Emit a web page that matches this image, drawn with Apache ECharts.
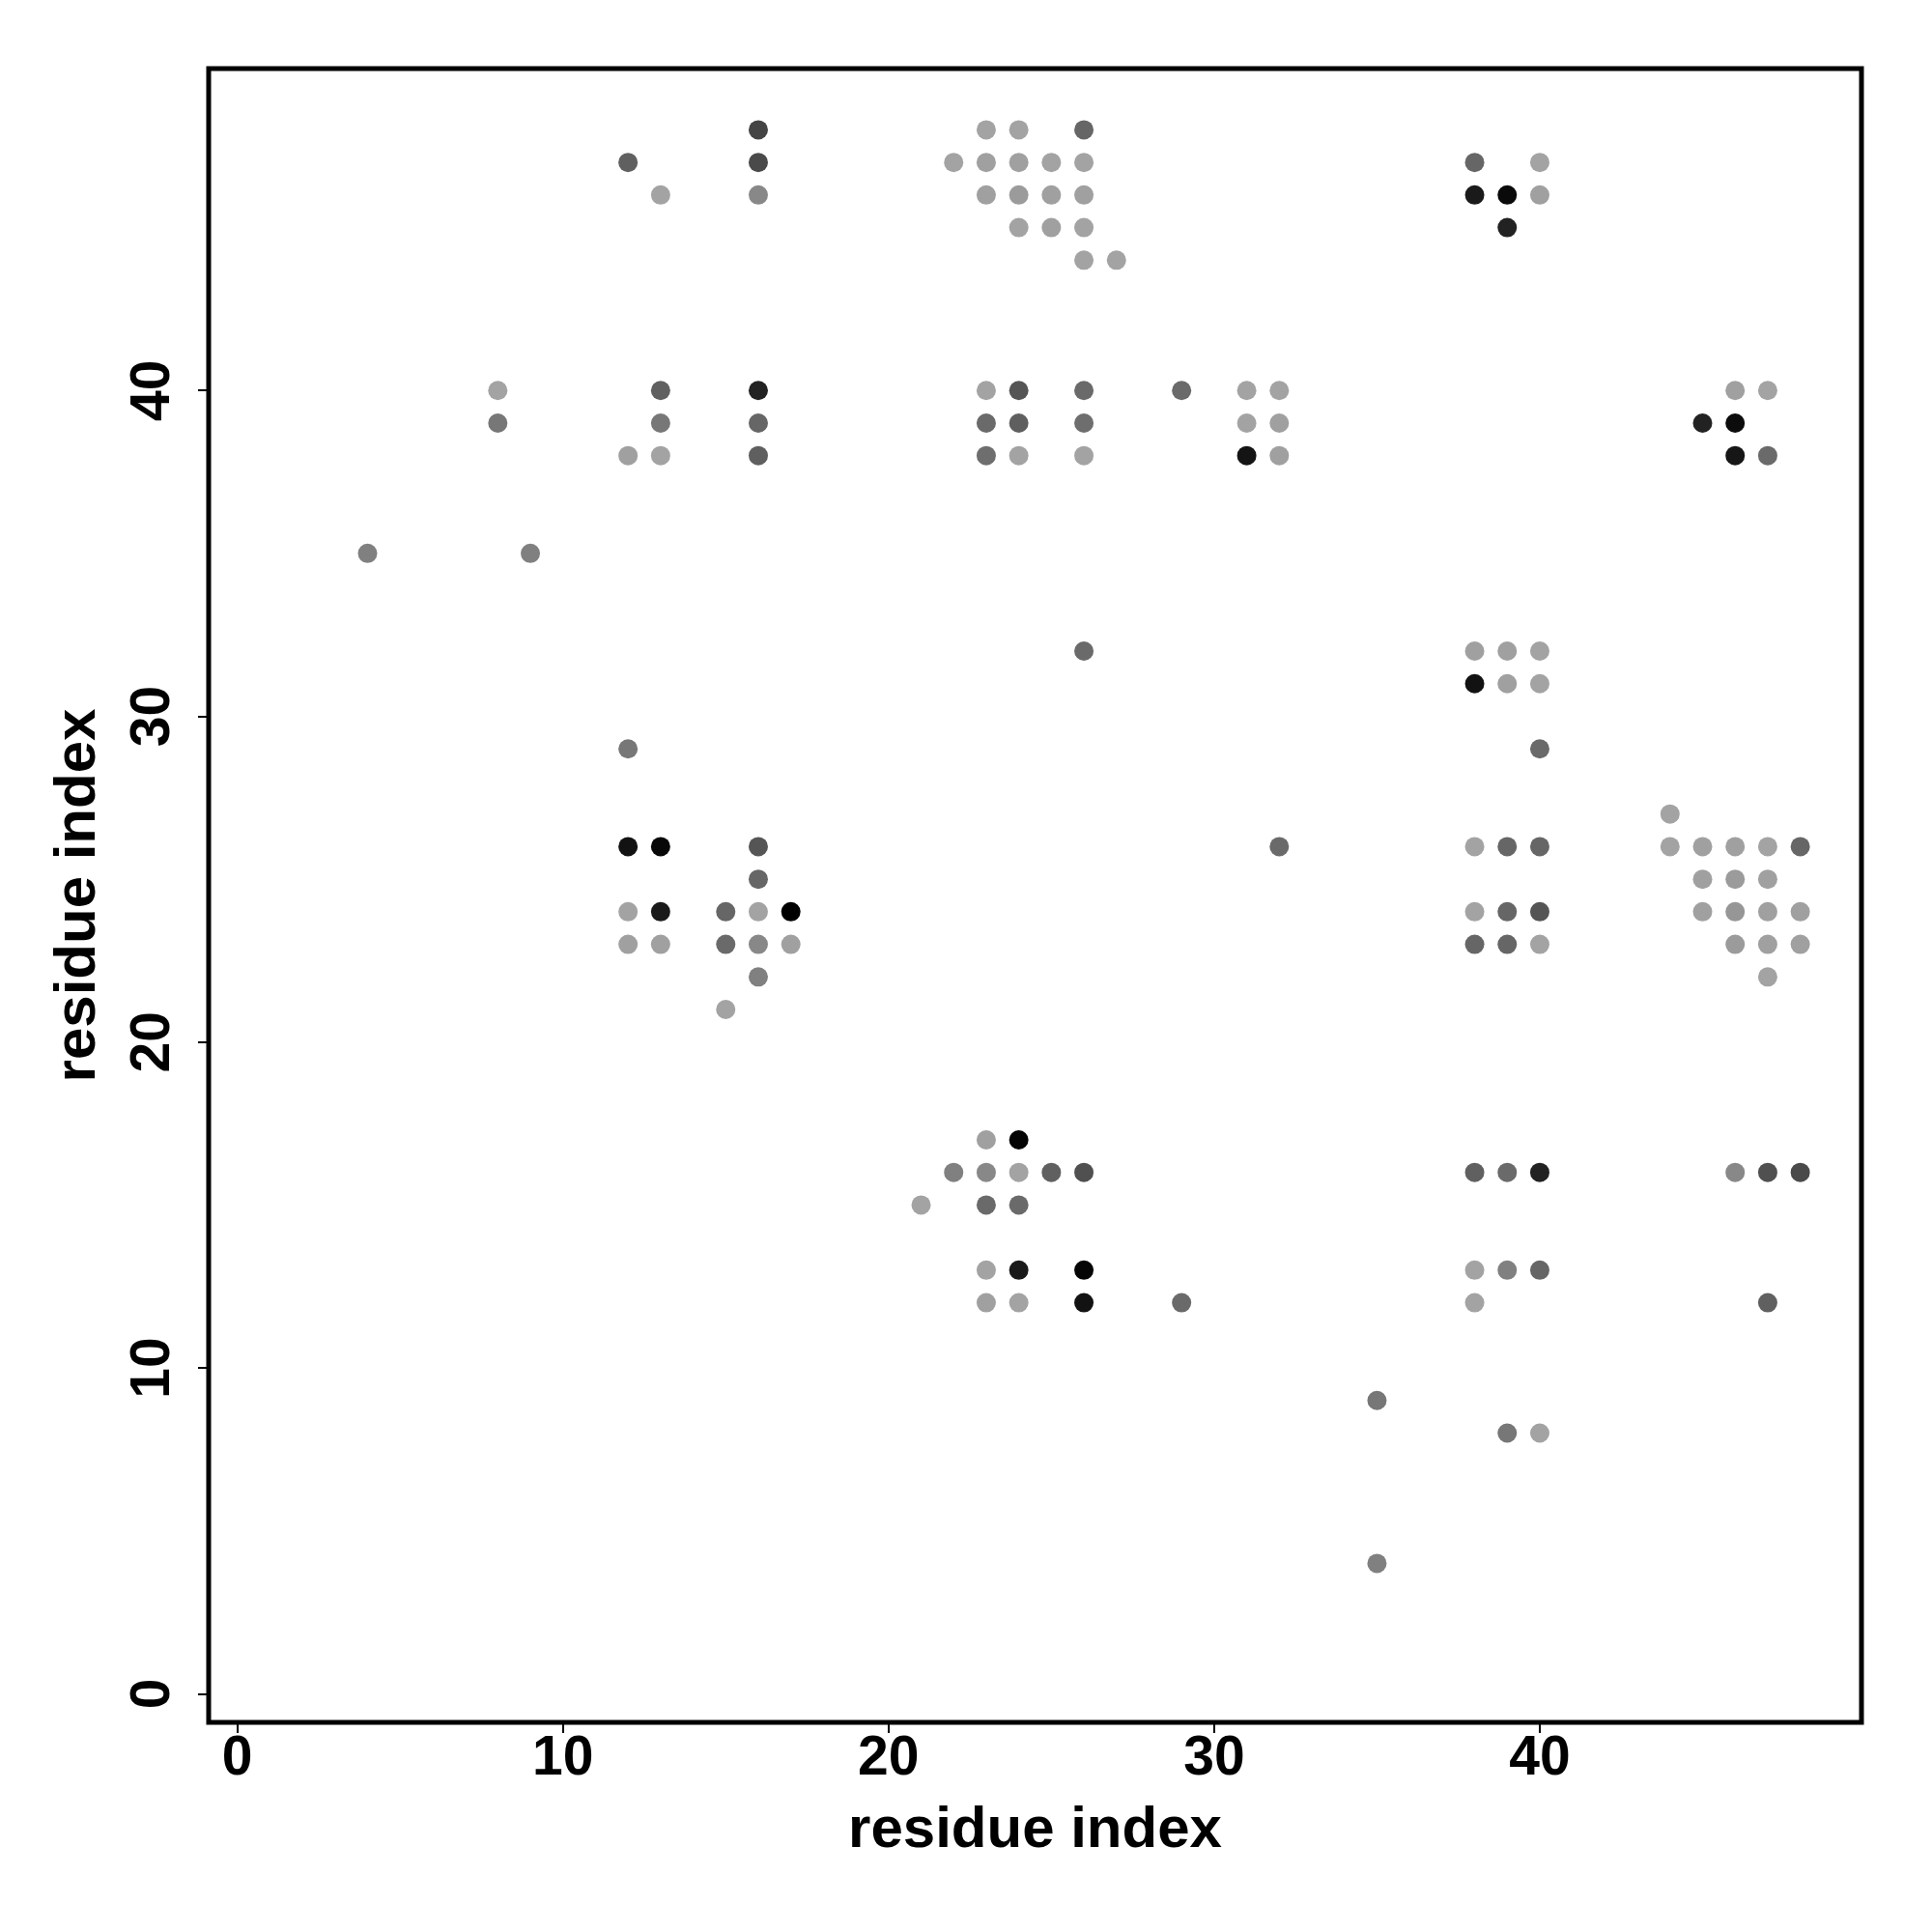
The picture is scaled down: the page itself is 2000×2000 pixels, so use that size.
<!DOCTYPE html>
<html>
<head>
<meta charset="utf-8">
<script src="https://cdn.jsdelivr.net/npm/echarts@6/dist/echarts.min.js"></script>
<style>html,body{margin:0;padding:0;background:#fff}#c{width:2000px;height:2000px}</style>
</head>
<body>
<div id="c"></div>
<script>
// contact map: residue i (x), residue j (y), gray level 0..255
const xs = [16,23,24,26, 12,16,22,23,24,25,26,38,40, 13,16,23,24,25,26,38,39,40, 24,25,26,39, 26,27,
  8,13,16,23,24,26,29,31,32,46,47, 8,13,16,23,24,26,31,32,45,46, 12,13,16,23,24,26,31,32,46,47,
  4,9, 26,38,39,40, 38,39,40, 12,40, 44,
  12,13,16,32,38,39,40,44,45,46,47,48, 16,45,46,47,
  12,13,15,16,17,38,39,40,45,46,47,48, 12,13,15,16,17,38,39,40,46,47,48,
  16,47, 15, 23,24, 22,23,24,25,26,38,39,40,46,47,48, 21,23,24,
  23,24,26,38,39,40, 23,24,26,29,38,47, 35, 39,40, 35];
const ys = [48,48,48,48, 47,47,47,47,47,47,47,47,47, 46,46,46,46,46,46,46,46,46, 45,45,45,45, 44,44,
  40,40,40,40,40,40,40,40,40,40,40, 39,39,39,39,39,39,39,39,39,39, 38,38,38,38,38,38,38,38,38,38,
  35,35, 32,32,32,32, 31,31,31, 29,29, 27,
  26,26,26,26,26,26,26,26,26,26,26,26, 25,25,25,25,
  24,24,24,24,24,24,24,24,24,24,24,24, 23,23,23,23,23,23,23,23,23,23,23,
  22,22, 21, 17,17, 16,16,16,16,16,16,16,16,16,16,16, 15,15,15,
  13,13,13,13,13,13, 12,12,12,12,12,12, 9, 8,8, 4];
const shades = [68,163,163,102, 96,74,163,160,160,163,163,102,163, 163,136,160,155,160,160,26,10,160, 163,160,163,34, 163,163,
  163,96,34,163,85,106,106,163,163,160,163, 119,119,102,106,95,110,163,160,34,12, 160,163,95,110,163,163,20,160,22,106,
  128,128, 106,160,160,163, 18,160,163, 119,106, 163,
  18,8,85,106,163,102,102,163,160,160,163,102, 102,160,155,160,
  163,26,102,163,0,163,102,85,160,150,160,160, 160,160,106,136,160,102,102,163,155,160,160,
  128,163, 163, 160,5, 128,136,163,96,80,96,106,34,136,80,74, 163,106,106,
  163,26,5,163,128,102, 160,163,18,106,163,96, 119, 119,163, 128];
const tickValues = [0,10,20,30,40];
const axisTitle = 'residue index';

const pts = xs.map((x,i)=>[x, ys[i], shades[i]]);
const gray = v => { const h = Math.round(v).toString(16).padStart(2,'0'); return '#'+h+h+h; };
const font = '"Liberation Sans", Arial, Helvetica, sans-serif';

const chart = echarts.init(document.getElementById('c'), null, {renderer:'canvas'});
chart.setOption({
  backgroundColor:'#fff',
  animation:false,
  grid:{left:216, top:71, width:1711, height:1712, show:true, borderColor:'#000', borderWidth:5, backgroundColor:'transparent'},
  xAxis:{type:'value', min:-0.88, max:49.88, splitLine:{show:false},
    axisLine:{show:false, onZero:false},
    axisTick:{show:true, customValues:tickValues, length:11, lineStyle:{color:'#000', width:2}},
    axisLabel:{customValues:tickValues, margin:10, color:'#000', fontSize:57, fontWeight:'bold', fontFamily:font},
    name:axisTitle, nameLocation:'middle', nameGap:82,
    nameTextStyle:{color:'#000', fontSize:60, fontWeight:'bold', fontFamily:font}},
  yAxis:{type:'value', min:-0.88, max:49.88, splitLine:{show:false},
    axisLine:{show:false, onZero:false},
    axisTick:{show:true, customValues:tickValues, length:11, lineStyle:{color:'#000', width:2}},
    axisLabel:{customValues:tickValues, rotate:90, margin:28, color:'#000', fontSize:57, fontWeight:'bold', fontFamily:font},
    name:axisTitle, nameLocation:'middle', nameGap:105, nameRotate:90,
    nameTextStyle:{color:'#000', fontSize:60, fontWeight:'bold', fontFamily:font}},
  series:[{type:'scatter', data:pts, symbol:'circle', symbolSize:20,
    itemStyle:{opacity:1, color:p=>gray(p.value[2])}}]
});
</script>
</body>
</html>
